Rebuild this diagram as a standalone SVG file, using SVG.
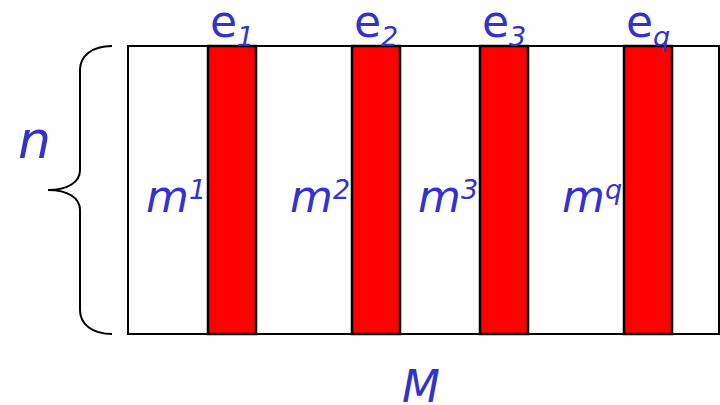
<svg xmlns="http://www.w3.org/2000/svg" width="720" height="405" viewBox="0 0 720 405">
<style>
.lbl{font-family:"DejaVu Sans","Verdana",sans-serif;fill:#3333cc;font-size:44px}
.it{font-style:italic}
.sm{font-size:27px;font-style:italic}
.bar{fill:#ff0000;stroke:#000;stroke-width:2.5}
.frame{fill:#fff;stroke:#000;stroke-width:2}
</style>
<rect width="720" height="405" fill="#fff"/>
<g id="matrix">
<rect class="frame" x="128" y="46" width="591" height="288"/>
</g>
<g id="col1"><rect class="bar" x="208" y="46" width="48" height="288"/></g>
<g id="col2"><rect class="bar" x="352" y="46" width="48" height="288"/></g>
<g id="col3"><rect class="bar" x="480" y="46" width="48" height="288"/></g>
<g id="colq"><rect class="bar" x="624" y="46" width="48" height="288"/></g>
<g id="brace">
<path d="M112,46 C92,46 80,56 80,70 L80,170 C80,182 68,190 48,190 C68,190 80,198 80,210 L80,310 C80,324 92,334 112,334" fill="none" stroke="#000" stroke-width="2"/>
</g>
<g id="labels">
<text class="lbl" x="210" y="37">e<tspan class="sm" dy="9">1</tspan></text>
<text class="lbl" x="354" y="37">e<tspan class="sm" dy="9">2</tspan></text>
<text class="lbl" x="482" y="37">e<tspan class="sm" dy="9">3</tspan></text>
<text class="lbl" x="626" y="37">e<tspan class="sm" dy="9">q</tspan></text>
<text class="lbl it" x="146" y="212">m<tspan class="sm" dy="-13">1</tspan></text>
<text class="lbl it" x="290" y="212">m<tspan class="sm" dy="-13">2</tspan></text>
<text class="lbl it" x="418" y="212">m<tspan class="sm" dy="-13">3</tspan></text>
<text class="lbl it" x="562" y="212">m<tspan class="sm" dy="-13">q</tspan></text>
<text class="lbl it" x="18" y="158" style="font-size:52px">n</text>
<text class="lbl it" x="402" y="402">M</text>
</g>
</svg>
